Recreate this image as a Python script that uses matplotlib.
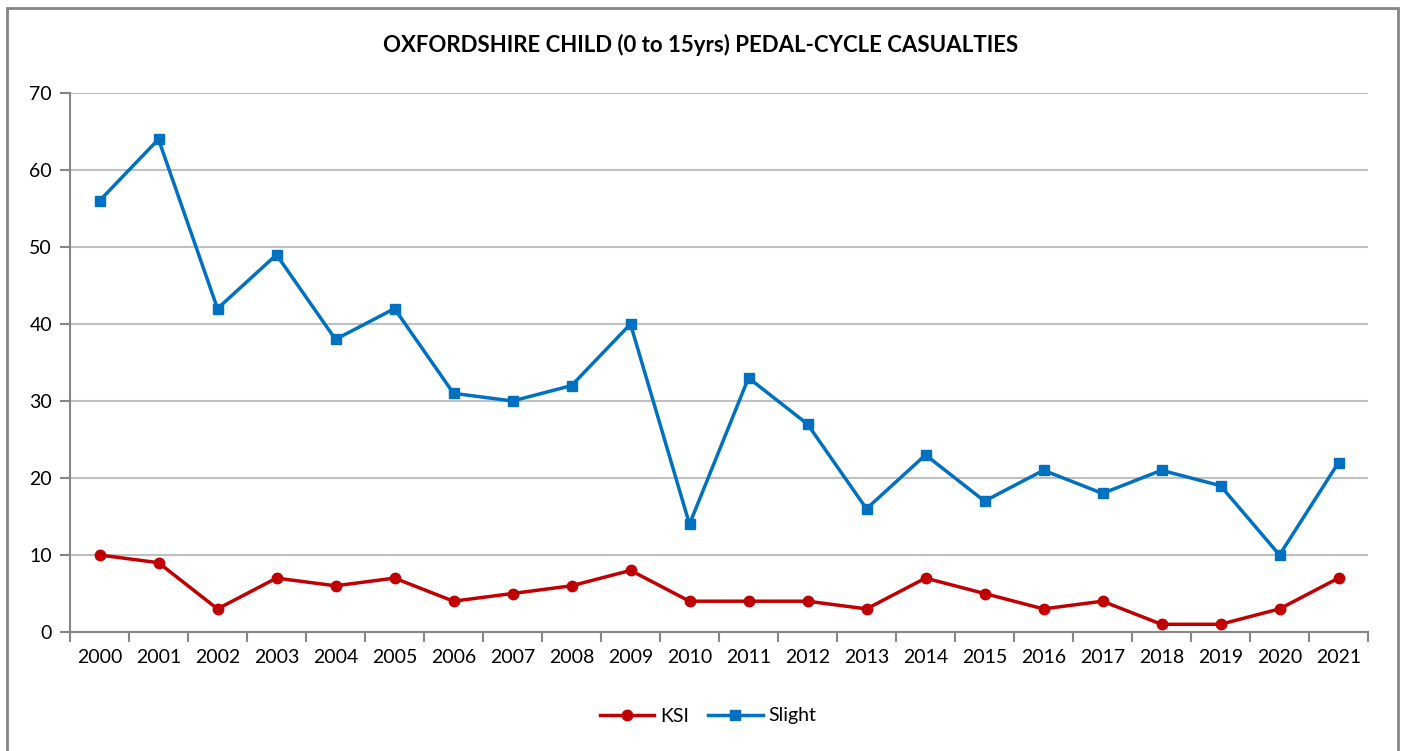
import numpy as np
import matplotlib
matplotlib.use("Agg")
import matplotlib.pyplot as plt
from matplotlib.patches import Rectangle

years = [str(y) for y in range(2000, 2022)]
ksi = [10, 9, 3, 7, 6, 7, 4, 5, 6, 8, 4, 4, 4, 3, 7, 5, 3, 4, 1, 1, 3, 7]
slight = [56, 64, 42, 49, 38, 42, 31, 30, 32, 40, 14, 33, 27, 16, 23, 17, 21, 18, 21, 19, 10, 22]

plt.rcParams['font.family'] = ['Lato', 'DejaVu Sans']

fig = plt.figure(figsize=(14.02, 7.51), dpi=100)
ax = fig.add_axes([70 / 1402, 119 / 751, 1298 / 1402, 539 / 751])

x = np.arange(len(years))
ax.plot(x, ksi, color='#C00000', linewidth=2.5, marker='o', markersize=7.5, label='KSI')
ax.plot(x, slight, color='#0070C0', linewidth=2.5, marker='s', markersize=7, label='Slight')

ax.set_xlim(-0.5, len(years) - 0.5)
ax.set_ylim(0, 70)
ax.set_yticks(range(0, 71, 10))
ax.set_xticks(x)
ax.set_xticklabels(years)
ax.set_xticks(np.arange(-0.5, len(years), 1), minor=True)
ax.tick_params(axis='x', which='major', length=0, pad=12, labelsize=14)
ax.tick_params(axis='x', which='minor', length=7, width=1.5, color='#868686')
ax.tick_params(axis='y', length=7, width=1.5, color='#868686', labelsize=14, pad=6)
ax.yaxis.grid(True, color='#BFBFBF', linewidth=1.5)
ax.set_axisbelow(True)
for s in ['top', 'right']:
    ax.spines[s].set_visible(False)
for s in ['left', 'bottom']:
    ax.spines[s].set_color('#868686')
    ax.spines[s].set_linewidth(1.5)

fig.text(0.5, 1 - 45 / 751, 'OXFORDSHIRE CHILD (0 to 15yrs) PEDAL-CYCLE CASUALTIES',
         ha='center', va='center', fontsize=16, fontweight='bold')

fig.legend(loc='center', bbox_to_anchor=(708 / 1402, 1 - 716 / 751), ncol=2,
           frameon=False, fontsize=14, handlelength=2.8, columnspacing=1.0,
           handletextpad=0.3)

fig.patches.append(Rectangle((7 / 1402, -0.05), 1391 / 1402, 1.05 - 8 / 751,
                             transform=fig.transFigure, fill=False,
                             edgecolor='#868686', linewidth=2))

fig.savefig('out.png', dpi=100)
